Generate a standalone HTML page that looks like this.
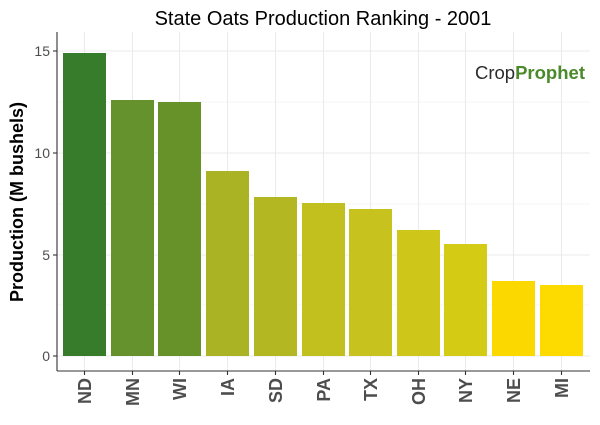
<!DOCTYPE html>
<html><head><style>body{margin:0;background:#fff}</style></head><body>
<svg width="600" height="420" xmlns="http://www.w3.org/2000/svg" font-family="Liberation Sans, sans-serif">
<rect width="600" height="420" fill="#fff"/>
<g stroke="#ebebeb" stroke-width="1.1">
<line x1="57" x2="590" y1="51" y2="51"/><line x1="57" x2="590" y1="153" y2="153"/><line x1="57" x2="590" y1="255" y2="255"/><line x1="57" x2="590" y1="356" y2="356"/>
<line x1="57" x2="590" y1="102" y2="102" stroke-width="0.6"/><line x1="57" x2="590" y1="204" y2="204" stroke-width="0.6"/><line x1="57" x2="590" y1="305" y2="305" stroke-width="0.6"/>
<line x1="84.5" x2="84.5" y1="32" y2="371"/><line x1="132.5" x2="132.5" y1="32" y2="371"/><line x1="179.5" x2="179.5" y1="32" y2="371"/><line x1="227.5" x2="227.5" y1="32" y2="371"/><line x1="275.5" x2="275.5" y1="32" y2="371"/><line x1="323.5" x2="323.5" y1="32" y2="371"/><line x1="370.5" x2="370.5" y1="32" y2="371"/><line x1="418.5" x2="418.5" y1="32" y2="371"/><line x1="465.5" x2="465.5" y1="32" y2="371"/><line x1="513.5" x2="513.5" y1="32" y2="371"/><line x1="561.5" x2="561.5" y1="32" y2="371"/>
</g>
<g>
<rect x="63" y="53" width="43" height="303" fill="#367c2b"/>
<rect x="111" y="100" width="43" height="256" fill="#65922d"/>
<rect x="158" y="102" width="43" height="254" fill="#669229"/>
<rect x="206" y="171" width="43" height="185" fill="#a9b324"/>
<rect x="254" y="197" width="43" height="159" fill="#b2b722"/>
<rect x="302" y="203" width="43" height="153" fill="#c2c01e"/>
<rect x="349" y="209" width="43" height="147" fill="#c7c21d"/>
<rect x="397" y="230" width="43" height="126" fill="#cec71a"/>
<rect x="444" y="244" width="43" height="112" fill="#d4cb14"/>
<rect x="492" y="281" width="43" height="75" fill="#fbd800"/>
<rect x="540" y="285" width="43" height="71" fill="#fddb00"/>
</g>
<g stroke="#333" stroke-width="1.1">
<line x1="57" x2="57" y1="32" y2="371"/><line x1="57" x2="590" y1="371" y2="371"/>
<line x1="53" x2="57" y1="51" y2="51"/><line x1="53" x2="57" y1="153" y2="153"/><line x1="53" x2="57" y1="255" y2="255"/><line x1="53" x2="57" y1="356" y2="356"/>
<line x1="84.5" x2="84.5" y1="371" y2="375"/><line x1="132.5" x2="132.5" y1="371" y2="375"/><line x1="179.5" x2="179.5" y1="371" y2="375"/><line x1="227.5" x2="227.5" y1="371" y2="375"/><line x1="275.5" x2="275.5" y1="371" y2="375"/><line x1="323.5" x2="323.5" y1="371" y2="375"/><line x1="370.5" x2="370.5" y1="371" y2="375"/><line x1="418.5" x2="418.5" y1="371" y2="375"/><line x1="465.5" x2="465.5" y1="371" y2="375"/><line x1="513.5" x2="513.5" y1="371" y2="375"/><line x1="561.5" x2="561.5" y1="371" y2="375"/>
</g>
<g fill="#4d4d4d" font-size="14" text-anchor="end">
<text x="50" y="56">15</text><text x="50" y="158">10</text><text x="50" y="260">5</text><text x="50" y="361">0</text>
</g>
<g fill="#4d4d4d" font-size="18" font-weight="bold" text-anchor="end">
<text transform="translate(91,378) rotate(-90)">ND</text>
<text transform="translate(139,378) rotate(-90)">MN</text>
<text transform="translate(186,378) rotate(-90)">WI</text>
<text transform="translate(234,378) rotate(-90)">IA</text>
<text transform="translate(282,378) rotate(-90)">SD</text>
<text transform="translate(330,378) rotate(-90)">PA</text>
<text transform="translate(377,378) rotate(-90)">TX</text>
<text transform="translate(425,378) rotate(-90)">OH</text>
<text transform="translate(472,378) rotate(-90)">NY</text>
<text transform="translate(520,378) rotate(-90)">NE</text>
<text transform="translate(568,378) rotate(-90)">MI</text>
</g>
<text transform="translate(23,202) rotate(-90)" text-anchor="middle" font-size="18" font-weight="bold" fill="#000">Production (M bushels)</text>
<text x="323" y="25" text-anchor="middle" font-size="20" fill="#000">State Oats Production Ranking - 2001</text>
<text x="475" y="79" font-size="18" textLength="110" lengthAdjust="spacingAndGlyphs" fill="#2b2b2b">Crop<tspan fill="#4a8a2a" font-weight="bold">Prophet</tspan></text>
</svg>
</body></html>
